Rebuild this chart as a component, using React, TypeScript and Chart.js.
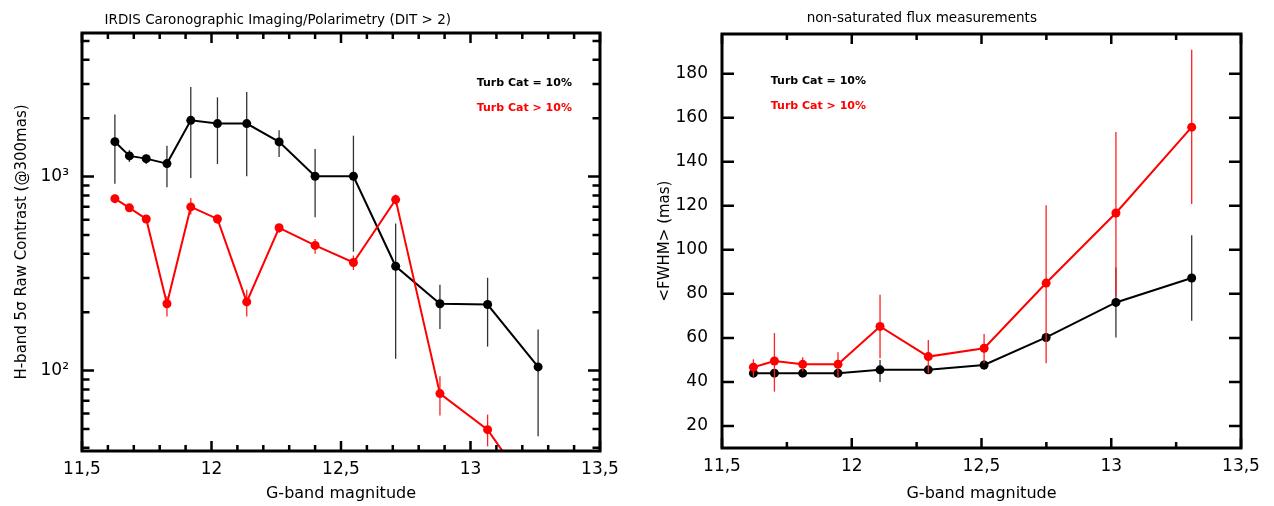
import React, { useEffect, useRef } from "react";
import { Chart, registerables } from "chart.js";

Chart.register(...registerables);

const FONT = "'DejaVu Sans', 'Liberation Sans', sans-serif";

// ---------- text ----------
const leftTitle = "IRDIS Caronographic Imaging/Polarimetry (DIT > 2)";
const rightTitle = "non-saturated flux measurements";
const xAxisTitle = "G-band magnitude";
const leftYTitle = "H-band 5σ Raw Contrast (@300mas)";
const rightYTitle = "<FWHM> (mas)";
const seriesLabels = ["Turb Cat = 10%", "Turb Cat > 10%"];
const seriesColors = ["#000000", "#ff0000"];

// ---------- ticks ----------
const xMajorTicks = [11.5, 12, 12.5, 13, 13.5];
const leftXMinorTicks = [11.6, 11.7, 11.8, 11.9, 12.1, 12.2, 12.3, 12.4, 12.6, 12.7, 12.8, 12.9, 13.1, 13.2, 13.3, 13.4];
const rightXMinorTicks = [11.75, 12.25, 12.75, 13.25];
const leftYMajorTicks = [100, 1000];
const leftYTickLabels = ["10²", "10³"];
const leftYMinorTicks = [40, 50, 60, 70, 80, 90, 200, 300, 400, 500, 600, 700, 800, 900, 2000, 3000, 4000, 5000];
const rightYMajorTicks = [20, 40, 60, 80, 100, 120, 140, 160, 180];
const rightYMinorTicks: number[] = [];

// ---------- left chart data (contrast) ----------
const magLeft = [11.627, 11.683, 11.748, 11.828, 11.92, 12.023, 12.136, 12.261, 12.4, 12.548, 12.711, 12.882, 13.066, 13.261];
const contrastBlack = [1514, 1279, 1238, 1167, 1950, 1876, 1876, 1510, 1004, 1004, 345, 221, 219, 104.5];
const contrastBlackHi = [2089, 1370, 1300, 1444, 2900, 2563, 2734, 1732, 1389, 1626, 573, 277, 301, 163];
const contrastBlackLo = [920, 1190, 1160, 881, 985, 1162, 1004, 1263, 617, 410, 115, 164, 133, 45.8];
const contrastRed = [770, 690, 605, 221, 698, 605, 226, 545, 442, 361, 761, 76.1, 49.6, 21];
const contrastRedHi = [808, 715, 625, 242, 776, 637, 261, 565, 477, 392, 808, 93.5, 59.3, 25];
const contrastRedLo = [732, 665, 585, 190, 637, 573, 190, 513, 400, 330, 717, 58.6, 40.7, 17];

// ---------- right chart data (FWHM) ----------
const magRight = [11.621, 11.702, 11.811, 11.947, 12.109, 12.295, 12.51, 12.749, 13.018, 13.31];
const fwhmBlack = [44.0, 44.0, 44.0, 44.0, 45.5, 45.5, 47.7, 60.2, 76.1, 87.2];
const fwhmBlackHi = [45.5, 45.5, 45.5, 45.5, 50, 47, 50, 62, 92, 106.6];
const fwhmBlackLo = [42.5, 42.5, 42.5, 42.5, 40, 44, 45.5, 58.5, 60.2, 67.8];
const fwhmRed = [46.7, 49.5, 48.0, 48.0, 65.2, 51.5, 55.3, 84.9, 116.7, 155.7];
const fwhmRedHi = [50.3, 62.2, 51.2, 53.5, 79.6, 59.1, 61.8, 120.2, 153.5, 190.8];
const fwhmRedLo = [42.4, 35.6, 44.7, 42.1, 50.8, 44, 48.5, 48.5, 79, 120.8];

// ---------- plugins ----------
const errorBarPlugin = {
  id: "errorBars",
  beforeDatasetDraw(chart: any, args: any) {
    const ds = chart.data.datasets[args.index];
    if (!ds.errHi) return;
    const { ctx, chartArea } = chart;
    const xs = chart.scales.x;
    const ys = chart.scales.y;
    ctx.save();
    ctx.beginPath();
    ctx.rect(chartArea.left, chartArea.top, chartArea.right - chartArea.left, chartArea.bottom - chartArea.top);
    ctx.clip();
    ctx.strokeStyle = ds.errColor;
    ctx.lineWidth = ds.errWidth;
    ds.data.forEach((p: any, i: number) => {
      const px = xs.getPixelForValue(p.x);
      ctx.beginPath();
      ctx.moveTo(px, ys.getPixelForValue(ds.errHi[i]));
      ctx.lineTo(px, ys.getPixelForValue(ds.errLo[i]));
      ctx.stroke();
    });
    ctx.restore();
  },
};

const framePlugin = {
  id: "frame",
  afterDraw(chart: any) {
    const o = chart.options.plugins.frame;
    const { ctx, chartArea } = chart;
    const { left, right, top, bottom } = chartArea;
    const xs = chart.scales.x;
    const ys = chart.scales.y;
    ctx.save();
    ctx.strokeStyle = "#000";
    ctx.lineCap = "butt";
    const xt = (vals: number[], len: number) => {
      vals.forEach((v) => {
        const px = xs.getPixelForValue(v);
        ctx.beginPath();
        ctx.moveTo(px, bottom);
        ctx.lineTo(px, bottom - len);
        ctx.moveTo(px, top);
        ctx.lineTo(px, top + len);
        ctx.stroke();
      });
    };
    const yt = (vals: number[], len: number) => {
      vals.forEach((v) => {
        const py = ys.getPixelForValue(v);
        ctx.beginPath();
        ctx.moveTo(left, py);
        ctx.lineTo(left + len, py);
        ctx.moveTo(right, py);
        ctx.lineTo(right - len, py);
        ctx.stroke();
      });
    };
    ctx.lineWidth = 2.5;
    xt(o.xMajor, 10);
    xt(o.xMinor, 6);
    yt(o.yMajor, 12);
    yt(o.yMinor, 7.5);
    ctx.lineWidth = 3;
    ctx.strokeRect(left, top, right - left, bottom - top);
    ctx.fillStyle = "#000";
    ctx.font = `13.5px ${FONT}`;
    ctx.textAlign = "center";
    ctx.textBaseline = "middle";
    ctx.fillText(o.title, left + o.titleFrac * (right - left), o.titleY);
    ctx.font = `bold 11px ${FONT}`;
    ctx.textAlign = "left";
    chart.data.datasets.forEach((ds: any, i: number) => {
      ctx.fillStyle = ds.borderColor;
      ctx.fillText(ds.label, left + o.legendFrac * (right - left), top + o.legendTop + i * 25);
    });
    ctx.restore();
  },
};

function makeDataset(label: string, color: string, xs: number[], ys: number[], hi: number[], lo: number[], order: number, errColor: string, errWidth: number) {
  return {
    label,
    data: xs.map((x, i) => ({ x, y: ys[i] })),
    errHi: hi,
    errLo: lo,
    errColor,
    errWidth,
    borderColor: color,
    backgroundColor: color,
    pointBackgroundColor: color,
    pointBorderColor: color,
    pointBorderWidth: 0,
    pointRadius: 4.5,
    borderWidth: 2,
    tension: 0,
    order,
    clip: 0,
  };
}

const commaLabel = (v: number) => String(v).replace(".", ",");

function buildConfig(side: "left" | "right"): any {
  const isLeft = side === "left";
  const datasets = isLeft
    ? [
        makeDataset(seriesLabels[0], seriesColors[0], magLeft, contrastBlack, contrastBlackHi, contrastBlackLo, 2, "#333333", 1.3),
        makeDataset(seriesLabels[1], seriesColors[1], magLeft, contrastRed, contrastRedHi, contrastRedLo, 1, "#ff2020", 1.3),
      ]
    : [
        makeDataset(seriesLabels[0], seriesColors[0], magRight, fwhmBlack, fwhmBlackHi, fwhmBlackLo, 2, "#333333", 1.3),
        makeDataset(seriesLabels[1], seriesColors[1], magRight, fwhmRed, fwhmRedHi, fwhmRedLo, 1, "#ff2020", 1.3),
      ];
  const yMajor = isLeft ? leftYMajorTicks : rightYMajorTicks;
  return {
    type: "line",
    data: { datasets },
    plugins: [errorBarPlugin, framePlugin],
    options: {
      responsive: false,
      animation: false,
      devicePixelRatio: 1,
      layout: { padding: isLeft ? { left: 0, right: 37, top: 33, bottom: 0 } : { left: 0, right: 33, top: 34, bottom: 0 } },
      plugins: {
        legend: { display: false },
        title: { display: false },
        tooltip: { enabled: false },
        frame: {
          title: isLeft ? leftTitle : rightTitle,
          titleFrac: isLeft ? 0.378 : 0.385,
          titleY: isLeft ? 20 : 18.5,
          legendFrac: isLeft ? 0.762 : 0.094,
          legendTop: isLeft ? 49.7 : 46.7,
          xMajor: xMajorTicks,
          xMinor: isLeft ? leftXMinorTicks : rightXMinorTicks,
          yMajor,
          yMinor: isLeft ? leftYMinorTicks : rightYMinorTicks,
        },
      },
      scales: {
        x: {
          type: "linear",
          min: 11.5,
          max: 13.5,
          afterBuildTicks: (scale: any) => {
            scale.ticks = xMajorTicks.map((v) => ({ value: v }));
          },
          afterFit: (scale: any) => {
            scale.height = isLeft ? 55 : 58;
          },
          grid: { display: false },
          border: { display: false },
          ticks: {
            color: "#000",
            font: { family: FONT, size: 17 },
            padding: 0,
            maxRotation: 0,
            autoSkip: false,
            callback: (v: number) => commaLabel(v),
          },
          title: {
            display: true,
            text: xAxisTitle,
            color: "#000",
            font: { family: FONT, size: 16 },
            padding: { top: 0, bottom: 3 },
          },
        },
        y: {
          type: isLeft ? "logarithmic" : "linear",
          min: isLeft ? 38.5 : 10,
          max: isLeft ? 5500 : 198,
          afterBuildTicks: (scale: any) => {
            scale.ticks = yMajor.map((v) => ({ value: v }));
          },
          afterFit: (scale: any) => {
            scale.width = isLeft ? 82 : 85;
          },
          grid: { display: false },
          border: { display: false },
          ticks: {
            color: "#000",
            font: { family: FONT, size: 17 },
            padding: isLeft ? 5 : 6,
            autoSkip: false,
            callback: (v: number) => (isLeft ? leftYTickLabels[leftYMajorTicks.indexOf(v)] : String(v)),
          },
          title: {
            display: true,
            text: isLeft ? leftYTitle : rightYTitle,
            color: "#000",
            font: { family: FONT, size: 15 },
            padding: { top: isLeft ? 13 : 19, bottom: 0 },
          },
        },
      },
    },
  };
}

function Panel({ side, left }: { side: "left" | "right"; left: number }) {
  const ref = useRef<HTMLCanvasElement | null>(null);
  useEffect(() => {
    if (!ref.current) return;
    const chart = new Chart(ref.current, buildConfig(side));
    return () => chart.destroy();
  }, [side]);
  return (
    <div style={{ position: "absolute", left, top: 0, width: 637, height: 506 }}>
      <canvas ref={ref} width={637} height={506} style={{ width: 637, height: 506, display: "block" }} />
    </div>
  );
}

export default function App() {
  return (
    <div style={{ position: "fixed", left: 0, top: 0, width: 1274, height: 506, background: "#fff" }}>
      <Panel side="left" left={0} />
      <Panel side="right" left={637} />
    </div>
  );
}
